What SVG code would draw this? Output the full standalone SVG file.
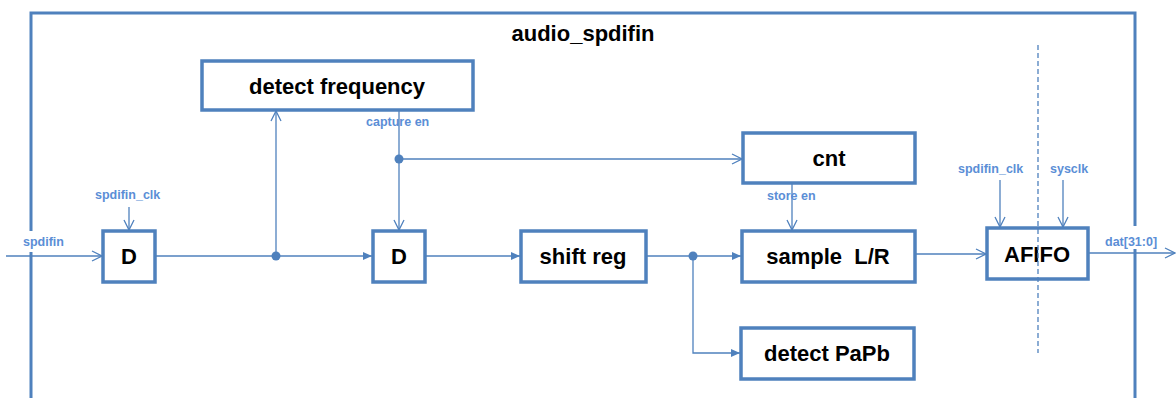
<svg xmlns="http://www.w3.org/2000/svg" width="1176" height="398" viewBox="0 0 1176 398">
<defs>
<style>
.frame{fill:none;stroke:#4F81BD;stroke-width:3}
.box{fill:#fff;stroke:#4F81BD;stroke-width:3.5}
.t{font-family:"Liberation Sans",Arial,sans-serif;font-weight:bold;font-size:22px;fill:#000;text-anchor:middle;white-space:pre}
.lbl{font-family:"Liberation Sans",Arial,sans-serif;font-weight:bold;font-size:12.5px;fill:#5B8ED6}
.w{stroke:#4F81BD;stroke-width:1.3;fill:none}
.dot{fill:#4F81BD}
</style>
<marker id="open" viewBox="0 0 12 12" markerWidth="12" markerHeight="12" refX="11" refY="6" orient="auto" markerUnits="userSpaceOnUse">
<path d="M1,1 L11,6 L1,11" fill="none" stroke="#4F81BD" stroke-width="1.3"/>
</marker>
<marker id="fill" viewBox="0 0 10 10" markerWidth="10" markerHeight="10" refX="9" refY="5" orient="auto" markerUnits="userSpaceOnUse">
<path d="M0,1 L9,5 L0,9 Z" fill="#4F81BD"/>
</marker>
</defs>
<rect width="1176" height="398" fill="#fff"/>
<g id="frame">
<rect class="frame" x="31" y="13" width="1104" height="400"/>
<rect x="24" y="231" width="14" height="21" fill="#fff"/>
<rect x="1128" y="226" width="14" height="23" fill="#fff"/>
<text class="t" x="583" y="41">audio_spdifin</text>
</g>
<g id="connectors">
<path class="w" d="M6,256 H102" marker-end="url(#open)"/>
<path class="w" d="M129,207 V230" marker-end="url(#open)"/>
<path class="w" d="M155,256 H372" marker-end="url(#fill)"/>
<path class="w" d="M276,256 V111" marker-end="url(#open)"/>
<circle class="dot" cx="276" cy="256" r="4.5"/>
<path class="w" d="M399,110 V230" marker-end="url(#open)"/>
<circle class="dot" cx="399" cy="159" r="4.5"/>
<path class="w" d="M399,159 H742" marker-end="url(#open)"/>
<path class="w" d="M425,256 H520" marker-end="url(#fill)"/>
<path class="w" d="M646,256 H741" marker-end="url(#fill)"/>
<circle class="dot" cx="693" cy="256" r="4.5"/>
<path class="w" d="M693,256 V353 H740" marker-end="url(#fill)"/>
<path class="w" d="M792,183 V230" marker-end="url(#open)"/>
<path class="w" d="M915,254 H986" marker-end="url(#open)"/>
<path class="w" d="M1000,180 V227" marker-end="url(#open)"/>
<path class="w" d="M1063,180 V227" marker-end="url(#open)"/>
<path class="w" d="M1088,253 H1175" marker-end="url(#open)"/>
<text class="lbl" x="23" y="246">spdifin</text>
<text class="lbl" x="95" y="199">spdifin_clk</text>
<text class="lbl" x="366" y="126">capture en</text>
<text class="lbl" x="767" y="200">store en</text>
<text class="lbl" x="958" y="173">spdifin_clk</text>
<text class="lbl" x="1050" y="173">sysclk</text>
<text class="lbl" x="1105" y="246">dat[31:0]</text>
</g>
<g id="detect_frequency">
<rect class="box" x="202" y="61" width="271" height="49"/>
<text class="t" x="337" y="94">detect frequency</text>
</g>
<g id="d1">
<rect class="box" x="103" y="231" width="52" height="51"/>
<text class="t" x="129" y="264">D</text>
</g>
<g id="d2">
<rect class="box" x="373" y="231" width="52" height="51"/>
<text class="t" x="399" y="264">D</text>
</g>
<g id="shift_reg">
<rect class="box" x="521" y="231" width="125" height="51"/>
<text class="t" x="583" y="264">shift reg</text>
</g>
<g id="cnt">
<rect class="box" x="743" y="133" width="172" height="50"/>
<text class="t" x="829" y="166">cnt</text>
</g>
<g id="sample_lr">
<rect class="box" x="742" y="231" width="173" height="51"/>
<text class="t" x="828" y="264">sample  L/R</text>
</g>
<g id="afifo">
<rect class="box" x="987" y="228" width="101" height="51"/>
<text class="t" x="1037" y="262">AFIFO</text>
</g>
<g id="detect_papb">
<rect class="box" x="741" y="328" width="173" height="51"/>
<text class="t" x="827" y="361">detect PaPb</text>
</g>
<g id="clock_boundary">
<line x1="1038" y1="45" x2="1038" y2="353" stroke="#4F81BD" stroke-width="1.3" stroke-dasharray="5,3"/>
</g>
</svg>
